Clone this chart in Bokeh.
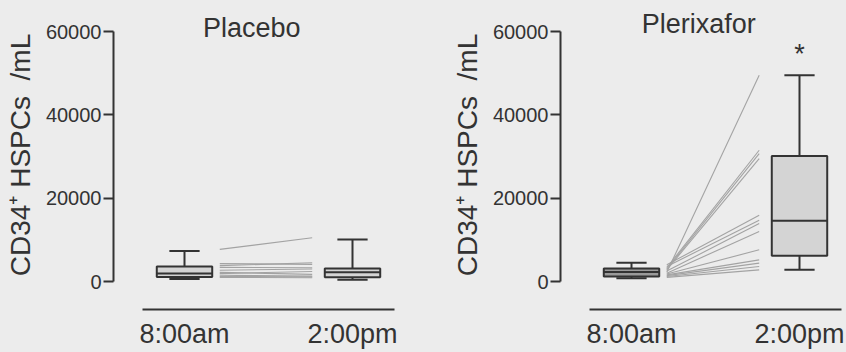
from bokeh.plotting import figure
from bokeh.models import Range1d, FixedTicker, Label
from bokeh.layouts import row
from bokeh.embed import file_html
from bokeh.resources import INLINE

# ---------------- data ----------------
time_labels = ["8:00am", "2:00pm"]
time_pos = [0, 1]
y_ticks = [0, 20000, 40000, 60000]
panel_titles = ["Placebo", "Plerixafor"]

# box statistics: [lower whisker, Q1, median, Q3, upper whisker]
placebo_8am = [600, 1100, 1900, 3600, 7300]
placebo_2pm = [400, 1000, 2200, 3100, 10100]
plerixafor_8am = [800, 1200, 2300, 3100, 4500]
plerixafor_2pm = [2800, 6200, 14600, 30100, 49500]

# paired individual values (8:00am -> 2:00pm)
placebo_pre = [7700, 4300, 3800, 3400, 2700, 2200, 1900, 1500, 1200, 1000]
placebo_post = [10500, 4100, 4500, 3300, 3000, 1700, 2400, 1300, 1100, 900]
plerixafor_pre = [2200, 3300, 3000, 2800, 4000, 3600, 2500, 2000, 1800, 1600, 1400, 1200, 1000]
plerixafor_post = [49500, 31500, 30700, 29500, 15900, 14700, 13900, 12000, 7600, 5200, 4400, 3600, 2800]
significance = ["", "*"]

# ---------------- style ----------------
BG = "#ececec"
INK = "#333333"
FONT = "Liberation Sans"
BOX_HW = 0.165
CAP_HW = 0.09
LINE_X0, LINE_X1 = 0.21, 0.76
PX_PER_UNIT = 168
Y_PER_PX = 240
BORDER_LEFT = 113
HEIGHT = 352
BORDER_BOTTOM = 43


def make_panel(title, title_lift, stats, pre, post, star, width, box_fills):
    frame_w = width - BORDER_LEFT
    x_start = -71 / PX_PER_UNIT
    x_end = x_start + frame_w / PX_PER_UNIT
    p = figure(width=width, height=HEIGHT, output_backend="svg", toolbar_location=None,
               x_range=Range1d(x_start, x_end),
               y_range=Range1d(-28 * Y_PER_PX, 60000 + 31 * Y_PER_PX),
               min_border_left=BORDER_LEFT, min_border_right=0, min_border_top=0,
               min_border_bottom=BORDER_BOTTOM)
    p.background_fill_color = BG
    p.border_fill_color = BG
    p.outline_line_color = None
    p.grid.visible = False

    # paired lines
    p.segment(x0=[LINE_X0] * len(pre), y0=pre, x1=[LINE_X1] * len(post), y1=post,
              line_color="#a3a3a3", line_width=1.1)

    for xi, s, fill in zip(time_pos, stats, box_fills):
        lo, q1, med, q3, hi = s
        p.segment(x0=[xi, xi], y0=[q3, q1], x1=[xi, xi], y1=[hi, lo],
                  line_color=INK, line_width=2)
        p.segment(x0=[xi - CAP_HW, xi - CAP_HW], y0=[hi, lo],
                  x1=[xi + CAP_HW, xi + CAP_HW], y1=[hi, lo],
                  line_color=INK, line_width=2)
        p.quad(left=[xi - BOX_HW], right=[xi + BOX_HW], bottom=[q1], top=[q3],
               fill_color=fill, line_color=INK, line_width=2)
        p.segment(x0=[xi - BOX_HW], y0=[med], x1=[xi + BOX_HW], y1=[med],
                  line_color=INK, line_width=2)

    for xi, s, mark in zip(time_pos, stats, star):
        if mark:
            p.add_layout(Label(x=xi, y=s[4] + 5000, text=mark, text_align="center",
                               text_baseline="alphabetic", text_font=FONT,
                               text_font_size="27px", text_color=INK))

    p.add_layout(Label(x=0.4, y=60000 + title_lift * Y_PER_PX, text=title, text_align="center",
                       text_baseline="alphabetic", text_font=FONT,
                       text_font_size="27px", text_color=INK))

    # y axis
    ya = p.yaxis[0]
    ya.ticker = FixedTicker(ticks=y_ticks)
    ya.bounds = (0, 60000)
    ya.axis_label = "CD34\u207a HSPCs\u00a0 /mL"
    ya.axis_label_text_font = FONT
    ya.axis_label_text_font_size = "28px"
    ya.axis_label_text_font_style = "normal"
    ya.axis_label_text_color = INK
    ya.axis_label_standoff = 7
    ya.major_label_text_font = FONT
    ya.major_label_text_font_size = "20px"
    ya.major_label_text_color = INK
    ya.major_label_standoff = 2
    ya.axis_line_color = INK
    ya.axis_line_width = 2
    ya.major_tick_line_color = INK
    ya.major_tick_line_width = 2
    ya.major_tick_out = 10
    ya.major_tick_in = 0
    ya.minor_tick_line_color = None
    ya.formatter.use_scientific = False

    # x axis
    xa = p.xaxis[0]
    xa.ticker = FixedTicker(ticks=time_pos)
    xa.major_label_overrides = {t: lab for t, lab in zip(time_pos, time_labels)}
    xa.bounds = (-0.25, 1.25)
    xa.axis_line_color = INK
    xa.axis_line_width = 2
    xa.major_tick_line_color = None
    xa.minor_tick_line_color = None
    xa.major_tick_out = 0
    xa.major_tick_in = 0
    xa.major_label_text_font = FONT
    xa.major_label_text_font_size = "27px"
    xa.major_label_text_color = INK
    xa.major_label_standoff = 9
    return p


left = make_panel(panel_titles[0], 4, [placebo_8am, placebo_2pm], placebo_pre, placebo_post,
                  ["", ""], 447, ["#d4d4d4", "#d4d4d4"])
right = make_panel(panel_titles[1], 8, [plerixafor_8am, plerixafor_2pm], plerixafor_pre,
                   plerixafor_post, significance, 399, ["#9a9a9a", "#d4d4d4"])

layout = row(left, right, spacing=0)
layout.styles = {"background-color": BG}
open("out.html", "w").write(file_html(layout, INLINE))
